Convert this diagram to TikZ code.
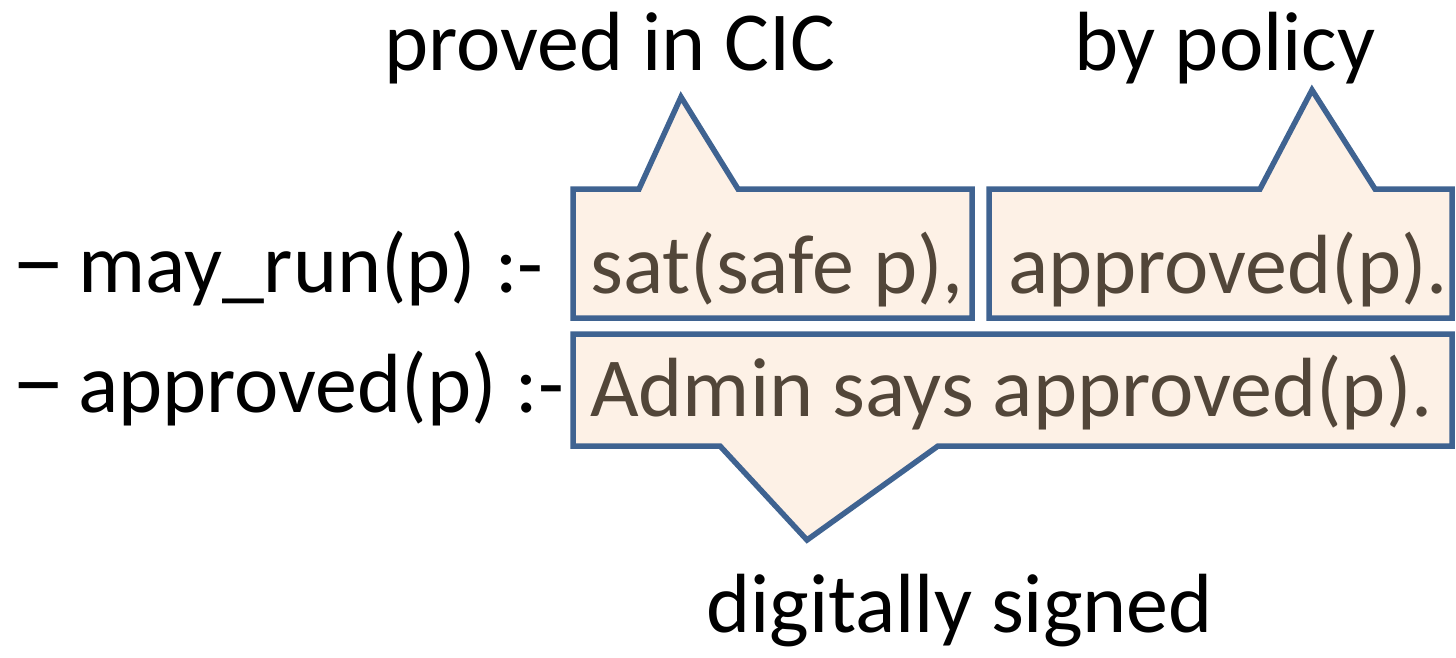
\documentclass[tikz,border=0pt]{standalone}
\usepackage{fontspec}
\setmainfont{Carlito}
\definecolor{callfill}{HTML}{FDF1E6}
\definecolor{calldraw}{HTML}{3F6391}
\definecolor{calltext}{HTML}{524639}
\begin{document}
\begin{tikzpicture}[x=1pt,y=-1pt,
  callout/.style={fill=callfill,draw=calldraw,line width=5.5pt,line join=miter},
  txt/.style={inner sep=0pt,anchor=base west,font=\fontsize{84}{100}\selectfont},
  intxt/.style={txt,text=calltext}]
\useasboundingbox (0,0) rectangle (1456,657);
% callouts
\draw[callout] (573,189) -- (639,189) -- (681,97) -- (738,189) -- (972,189) -- (972,318) -- (573,318) -- cycle;
\draw[callout] (989,189) -- (1260,189) -- (1312,90) -- (1375,189) -- (1452,189) -- (1452,318) -- (989,318) -- cycle;
\draw[callout] (573,334) -- (1452,334) -- (1452,446) -- (938,446) -- (807,540) -- (720,446) -- (573,446) -- cycle;
% left texts
\node[txt] (d1) at (11,292) {\scalebox{1.3}[1.15]{–}};
\node[txt] (r1) at (78,292) {may\_run(p) :-};
\node[txt] (d2) at (11,412) {\scalebox{1.3}[1.15]{–}};
\node[txt] (r2) at (78,412) {approved(p) :-};
% callout texts
\node[intxt] (c1) at (590,293) {sat(safe p),};
\node[intxt] (c2) at (1008,293) {approved(p).};
\node[intxt] (c3) at (590,416) {Admin says approved(p).};
% labels
\node[txt] (l1) at (384,70) {proved in CIC};
\node[txt] (l2) at (1074,70) {by policy};
\node[txt] (l3) at (706,632) {digitally signed};
\end{tikzpicture}
\end{document}
